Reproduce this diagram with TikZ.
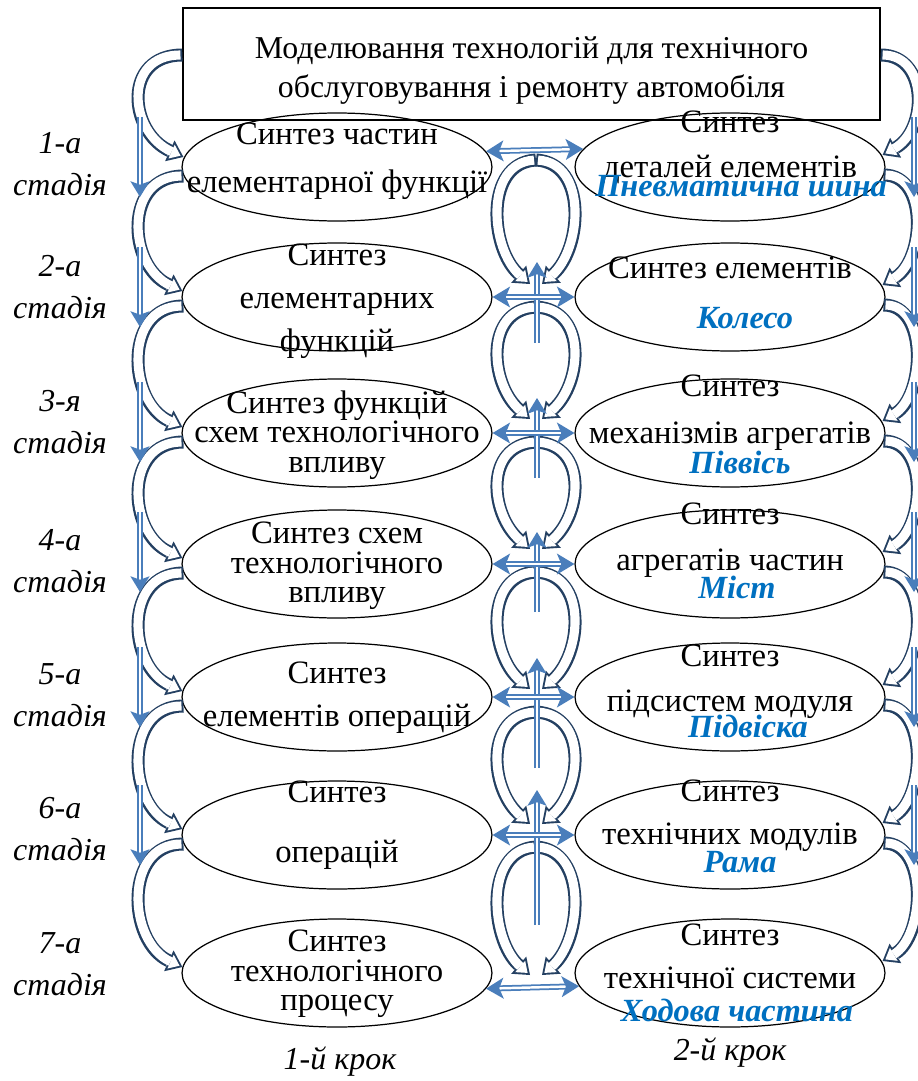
\documentclass[tikz,border=0pt]{standalone}
\usepackage{fontspec}
\setmainfont{Liberation Serif}
\usetikzlibrary{shapes.geometric, arrows.meta, calc}
\definecolor{navyline}{HTML}{244062}
\definecolor{arrowblue}{HTML}{4A7EBB}
\definecolor{textblue}{HTML}{0070C0}
\tikzstyle{oval} = [ellipse, draw, line width=0.7pt, minimum width=6.2cm,
    minimum height=2.16cm, inner sep=0pt]
\tikzstyle{txt} = [align=center, inner sep=0pt, font=\fontsize{18.6}{22.2}\selectfont]
\tikzstyle{ttl} = [align=center, inner sep=0pt, font=\fontsize{18.1}{21.7}\selectfont]
\tikzstyle{part} = [inner sep=0pt, text=textblue,
    font=\fontsize{18.4}{22}\selectfont\bfseries\itshape]
\tikzstyle{stage} = [align=center, inner sep=0pt, font=\fontsize{18.2}{21.8}\selectfont\itshape]
\tikzstyle{hollowout} = [draw=navyline, line width=7.4pt,
    -{Triangle[length=8.5pt, width=13pt, line width=0pt]}]
\tikzstyle{hollowin} = [draw=white, line width=5.2pt, shorten <=1.1pt, shorten >=1.8pt,
    -{Triangle[length=5.6pt, width=8.6pt, line width=0pt]}]
\tikzstyle{dblarrow} = [draw=arrowblue, double=white, line width=1pt, double distance=1.4pt,
    {Stealth[length=10pt, width=12pt, inset=2.5pt, line width=0pt]}-{Stealth[length=10pt, width=12pt, inset=2.5pt, line width=0pt]}]
\tikzstyle{vertarrow} = [draw=arrowblue, double=white, line width=0.9pt, double distance=1.3pt,
    -{Stealth[length=9pt, width=11pt, inset=2pt, line width=0pt]}]
\newcommand{\hollow}[1]{\draw[hollowout] #1; \draw[hollowin] #1;}

\begin{document}
\begin{tikzpicture}[x=0.02cm, y=-0.02cm]
    \useasboundingbox (0,0) rectangle (917,1081);

    % Title box and ovals
    \node[draw, line width=0.8pt, minimum width=13.94cm, minimum height=2.24cm] (title) at (531.5,64) {};
    \foreach \i/\c in {1/167,2/297,3/433,4/564,5/697,6/835,7/973} {
        \node[oval] (L\i) at (337,\c) {};
        \node[oval] (R\i) at (730,\c) {};
    }

    % Curved block arrows, left and right chains
    \hollow{($(title.west)+(0,-9)$) .. controls +(-60,0) and +(-55,-25) .. ($(L1.west)+(2,-10)$)}
    \hollow{($(title.east)+(0,-9)$) .. controls +(48,0) and +(45,-25) .. ($(R1.east)+(-3,-12)$)}
    \foreach \i/\j in {1/2,2/3,3/4,4/5,5/6,6/7} {
        \hollow{($(L\i.west)+(2,9)$) .. controls +(-60,0) and +(-55,-25) .. ($(L\j.west)+(1,-6)$)}
        \hollow{($(R\i.east)+(-2,8)$) .. controls +(45,0) and +(42,-25) .. ($(R\j.east)+(-3,-12)$)}
    }

    % Loops between the rows
    \foreach \i/\a/\b in {1/160/284, 2/307/419, 3/442/549, 4/572/689, 5/712/824, 6/847/975} {
        \coordinate (lt\i) at (536,\a);
        \coordinate (lbl\i) at (530,\b);
        \coordinate (lbr\i) at (542,\b);
        \hollow{(lt\i) .. controls +(-52,3) and +(-40,-35) .. (lbl\i)}
        \hollow{(lt\i) .. controls +(52,3) and +(40,-35) .. (lbr\i)}
    }

    % Blue arrows
    \foreach \i/\c in {1/167,2/297,3/432,4/562,5/697,6/835} {
        \coordinate (ls\i) at (140,\c-50);
        \coordinate (le\i) at (140,\c+30);
        \coordinate (rs\i) at (914,\c-50);
        \coordinate (re\i) at (914,\c+30);
        \draw[vertarrow] (ls\i) -- (le\i);
        \draw[vertarrow] (rs\i) -- (re\i);
    }
    \foreach \i/\a/\b in {2/343/262, 3/478/398, 4/612/532, 5/768/658, 6/925/790} {
        \coordinate (us\i) at (537,\a);
        \coordinate (ue\i) at (537,\b);
        \draw[vertarrow] (us\i) -- (ue\i);
    }
    \draw[dblarrow] (L1.6.6) -- (R1.173.4);
    \foreach \i in {2,...,6} {
        \draw[dblarrow] (L\i) -- (R\i);
    }
    \draw[dblarrow] (L7.354.25) -- (R7.185.75);

    % Texts
    \node[ttl] (titletxt) at (531.5,71) {Моделювання технологій для технічного\\[0.5pt]обслуговування і ремонту автомобіля};
    \node[txt] (L1t) at (337,161) {Синтез частин\\[5pt]елементарної функції};
    \node[txt] (L2t) at (337,301) {Синтез\\[2.4pt]елементарних\\[2.4pt]функцій};
    \node[txt] (L3t) at (337,435) {Синтез функцій\\[-5.5pt]схем технологічного\\[-5.5pt]впливу};
    \node[txt] (L4t) at (337,566) {Синтез схем\\[-5.5pt]технологічного\\[-5.5pt]впливу};
    \node[txt] (L5t) at (337,698) {Синтез\\[2.2pt]елементів операцій};
    \node[txt] (L6t) at (337,825) {Синтез\\[11.8pt]операцій};
    \node[txt] (L7t) at (337,974) {Синтез\\[-5.5pt]технологічного\\[-5.5pt]процесу};

    \node[txt] (R1t) at (730,147) {Синтез\\[3.3pt]деталей елементів};
    \node[txt] (R2t) at (730,268) {Синтез елементів};
    \node[txt] (R3t) at (730,413) {Синтез\\[4.4pt]механізмів агрегатів};
    \node[txt] (R4t) at (730,540) {Синтез\\[3.9pt]агрегатів частин};
    \node[txt] (R5t) at (730,682) {Синтез\\[3.3pt]підсистем модуля};
    \node[txt] (R6t) at (730,816) {Синтез\\[2.2pt]технічних модулів};
    \node[txt] (R7t) at (730,956) {Синтез\\[2.2pt]технічної системи};

    \node[part] (R1p) at (741,186) {Пневматична шина};
    \node[part] (R2p) at (745,318) {Колесо};
    \node[part] (R3p) at (740,462) {Піввісь};
    \node[part] (R4p) at (737,587) {Міст};
    \node[part] (R5p) at (748,726) {Підвіска};
    \node[part] (R6p) at (740,862) {Рама};
    \node[part] (R7p) at (737,1010) {Ходова частина};

    % Stages and steps
    \foreach \i/\n/\y in {1/1-а/164, 2/2-а/287, 3/3-я/422, 4/4-а/561, 5/5-а/695, 6/6-а/829, 7/7-а/964} {
        \node[stage] (st\i) at (60,\y) {\n\\[2.3pt]стадія};
    }
    \node[stage] (step1) at (340,1062) {1-й крок};
    \node[stage] (step2) at (730,1053) {2-й крок};
\end{tikzpicture}
\end{document}
